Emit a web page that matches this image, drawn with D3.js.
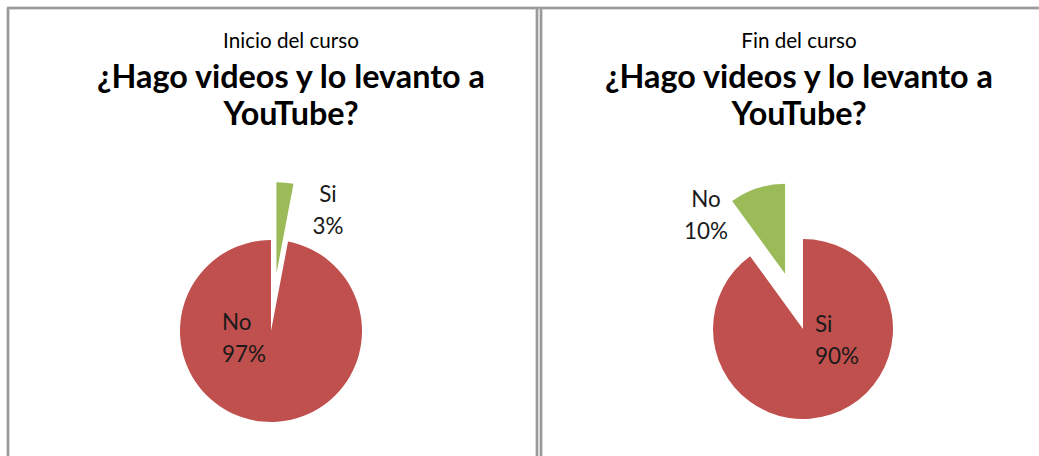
<!DOCTYPE html>
<html><head><meta charset="utf-8">
<script src="https://cdn.jsdelivr.net/npm/d3@7"></script>
<style>body{margin:0;background:#fff}svg{display:block}</style>
</head><body><svg id="c" width="1039" height="456"></svg>
<script>
// ---- data ----
const subtitles = ["Inicio del curso", "Fin del curso"];
const titleLines = ["¿Hago videos y lo levanto a", "YouTube?"];
const categories = ["Si", "No"];
const inicioValues = [3, 97];
const finValues = [90, 10];
const inicioColors = ["#9BBB59", "#C0504D"];
const finColors = ["#C0504D", "#9BBB59"];
const inicioExploded = [true, false];
const finExploded = [false, true];

// ---- layout (styling only) ----
const FONT = "Lato, 'Open Sans', sans-serif";
const panels = [
  { values: inicioValues, colors: inicioColors, exploded: inicioExploded, subtitle: subtitles[0],
    titleX: 291, cx: 271, cy: 331, r: 91,
    labels: [ {dx: 57, dy: -129, anchor: "middle"}, {dx: -49, dy: -1, anchor: "start"} ] },
  { values: finValues, colors: finColors, exploded: finExploded, subtitle: subtitles[1],
    titleX: 799, cx: 803, cy: 329, r: 90,
    labels: [ {dx: 12, dy: 3, anchor: "start"}, {dx: -97, dy: -122, anchor: "middle"} ] }
];
const EXPLODE = 58;

const svg = d3.select("#c");
svg.append("rect").attr("width", 1039).attr("height", 456).attr("fill", "#fff");

// measure helper
function fit(text, weight, target) {
  const t = svg.append("text").attr("font-family", FONT).attr("font-weight", weight)
    .attr("font-size", 100).text(text);
  const w = t.node().getComputedTextLength();
  t.remove();
  return 100 * target / w;
}
const subSize = fit(subtitles[0], 400, 136);
const titleSize = fit(titleLines[0], 700, 388);
const labelSize = fit("97%", 400, 44);

// borders
const border = svg.append("g");
const borderLines = [
  [[7, 8], [1039, 8]],
  [[8, 8], [8, 456]],
  [[537, 8], [537, 456]],
  [[541, 8], [541, 456]]
];
borderLines.forEach(l => {
  border.append("path").attr("d", d3.line()(l)).attr("stroke", "#b4b4b4").attr("stroke-width", 3).attr("fill", "none");
  border.append("path").attr("d", d3.line()(l)).attr("stroke", "#808080").attr("stroke-width", 1).attr("fill", "none");
});

const pie = d3.pie().sort(null).value(d => d).startAngle(0).endAngle(2 * Math.PI);

panels.forEach(p => {
  const g = svg.append("g");
  g.append("text").attr("x", p.titleX).attr("y", 48).attr("text-anchor", "middle")
    .attr("font-family", FONT).attr("font-size", subSize).attr("fill", "#000").text(p.subtitle);
  titleLines.forEach((line, i) => {
    g.append("text").attr("x", p.titleX).attr("y", 88 + i * 37).attr("text-anchor", "middle")
      .attr("font-family", FONT).attr("font-weight", 700).attr("font-size", titleSize)
      .attr("fill", "#000").text(line);
  });

  const arcs = pie(p.values);
  const arc = d3.arc().innerRadius(0).outerRadius(p.r);
  const total = d3.sum(p.values);
  const pg = g.append("g").attr("transform", `translate(${p.cx},${p.cy})`);
  arcs.forEach((a, i) => {
    const mid = (a.startAngle + a.endAngle) / 2;
    const off = p.exploded[i] ? EXPLODE : 0;
    const ox = Math.sin(mid) * off, oy = -Math.cos(mid) * off;
    pg.append("path").attr("d", arc(a)).attr("transform", `translate(${ox},${oy})`)
      .attr("fill", p.colors[i]);
    const L = p.labels[i];
    const lines = [categories[i], Math.round(100 * p.values[i] / total) + "%"];
    lines.forEach((txt, j) => {
      pg.append("text").attr("x", L.dx).attr("y", L.dy + j * 32).attr("text-anchor", L.anchor)
        .attr("font-family", FONT).attr("font-size", labelSize).attr("fill", "#1a1a1a").text(txt);
    });
  });
});
</script></body></html>
